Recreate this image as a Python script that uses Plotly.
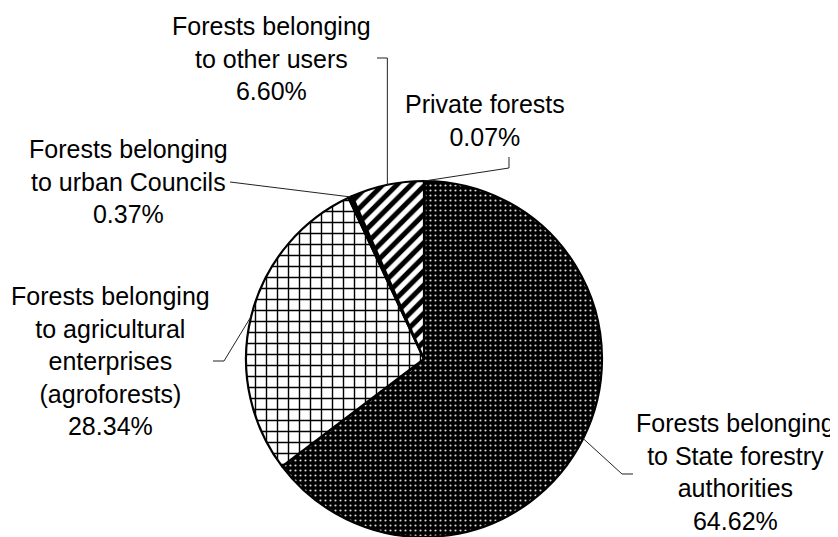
import math
import plotly.graph_objects as go

W, H = 838, 537
OFF = 8  # page body margin offset of the figure in the screenshot

# ---- data (clockwise from 12 o'clock) ----
labels = ["Private forests",
          "Forests belonging<br>to State forestry<br>authorities",
          "Forests belonging<br>to agricultural<br>enterprises<br>(agroforests)",
          "Forests belonging<br>to urban Councils",
          "Forests belonging<br>to other users"]
values = [0.07, 64.62, 28.34, 0.37, 6.60]
pct_text = ["0.07%", "64.62%", "28.34%", "0.37%", "6.60%"]

# ---- styling ----
fill_colors = ["black", "black", "white", "black", "white"]
pat_shapes = [".", ".", "+", "", "/"]
pat_fg = ["#d8d8d8", "#d8d8d8", "black", "black", "black"]
pat_size = [5, 5, 11, 8, 10]
pat_solid = [0.15, 0.15, 0.24, 0.3, 0.5]

# pie geometry in screenshot pixels
cx, cy, R = 424, 359, 178

# label block centers and leader bend points (screenshot pixels)
label_pos = [(485, 120), (735, 472), (110, 361), (128, 181), (271, 58)]
leader_pts = [
    [(509, 157), (509, 168)],
    [(633, 474), (622, 474)],
    [(213, 361), (224, 361)],
    [(230, 182)],
    [(377, 58), None],
]

def px(x, y):
    return (x - OFF) / W, 1 - (y - OFF) / H

fig = go.Figure()
x0, y1 = px(cx - R, cy - R)
x1, y0 = px(cx + R, cy + R)
fig.add_trace(go.Pie(
    labels=labels, values=values, sort=False, direction="clockwise",
    rotation=0, textinfo="none", hoverinfo="label+percent",
    marker=dict(colors=fill_colors,
                line=dict(color="black", width=2.2),
                pattern=dict(shape=pat_shapes, fgcolor=pat_fg, size=pat_size,
                             solidity=pat_solid, fillmode="overlay", fgopacity=1)),
    domain=dict(x=[x0, x1], y=[max(y0, 0), y1]),
    showlegend=False,
))

shapes = []
annotations = []
total = sum(values)
cum = 0.0
for i, v in enumerate(values):
    mid = (cum + v / 2) / total * 2 * math.pi
    cum += v
    ex = cx + R * math.sin(mid)
    ey = cy - R * math.cos(mid)
    pts = []
    for p in leader_pts[i]:
        if p is None:
            pts.append((ex, pts[-1][1]))
        else:
            pts.append(p)
    pts.append((ex, ey))
    path = "M " + " L ".join(f"{px(*p)[0]:.5f},{px(*p)[1]:.5f}" for p in pts)
    shapes.append(dict(type="path", xref="paper", yref="paper", path=path,
                       line=dict(color="#222222", width=1)))
    lx, ly = px(*label_pos[i])
    annotations.append(dict(
        x=lx, y=ly, xref="paper", yref="paper",
        text=labels[i] + "<br>" + pct_text[i], showarrow=False,
        xanchor="center", yanchor="middle", align="center",
        font=dict(family="Liberation Sans, Arial, sans-serif", size=25, color="black")))

fig.update_layout(
    width=W, height=H, margin=dict(l=0, r=0, t=0, b=0),
    paper_bgcolor="white", plot_bgcolor="white",
    shapes=shapes, annotations=annotations,
)
fig.write_html("out.html")
